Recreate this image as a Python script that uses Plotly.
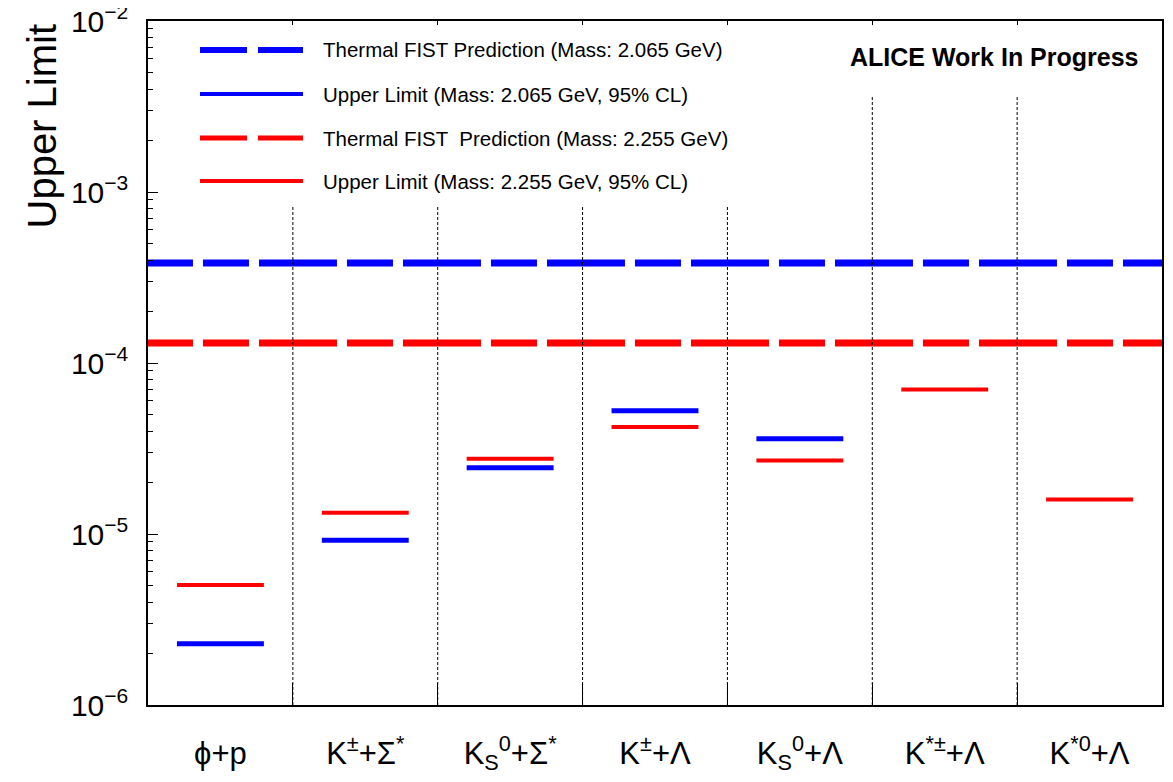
import plotly.graph_objects as go

categories = ["ϕ+p", "K<sup>±</sup>+Σ<sup>*</sup>", "K<sub>S</sub><sup>0</sup>+Σ<sup>*</sup>",
              "K<sup>±</sup>+Λ", "K<sub>S</sub><sup>0</sup>+Λ", "K<sup>*±</sup>+Λ", "K<sup>*0</sup>+Λ"]
ul_2065 = [2.28e-6, 9.18e-6, 2.44e-5, 5.26e-5, 3.61e-5, None, None]
ul_2255 = [5.04e-6, 1.33e-5, 2.75e-5, 4.23e-5, 2.69e-5, 7.01e-5, 1.59e-5]
fist_2065 = 3.85e-4
fist_2255 = 1.31e-4
sep_top = [8.17e-4, 8.17e-4, 8.17e-4, 8.17e-4, 3.69e-3, 3.69e-3]
ymin, ymax = 1e-6, 1e-2

BLUE = "#0000ff"
RED = "#ff0000"
FONT = "Liberation Sans, Arial, sans-serif"
n = len(categories)

def segs(vals):
    xs, ys = [], []
    for i, v in enumerate(vals):
        if v is None:
            continue
        xs += [i + 0.2, i + 0.8, None]
        ys += [v, v, None]
    return xs, ys

fig = go.Figure()

# separators (dotted)
sx, sy = [], []
for i, top in enumerate(sep_top):
    sx += [i + 1, i + 1, None]
    sy += [ymin, top, None]
fig.add_trace(go.Scatter(x=sx, y=sy, mode="lines", xaxis="x2",
                         line=dict(color="black", width=1, dash="3px,2px"),
                         hoverinfo="skip", showlegend=False))

# thermal FIST predictions (dashed)
for val, col in [(fist_2065, BLUE), (fist_2255, RED)]:
    fig.add_trace(go.Scatter(x=[-0.228, n + 0.3], y=[val, val], mode="lines",
                             line=dict(color=col, width=7, dash="78px,10px,46px,10px"),
                             showlegend=False))

# upper limits
bx, by = segs(ul_2065)
fig.add_trace(go.Scatter(x=bx, y=by, mode="lines", line=dict(color=BLUE, width=5),
                         showlegend=False))
rx, ry = segs(ul_2255)
fig.add_trace(go.Scatter(x=rx, y=ry, mode="lines", line=dict(color=RED, width=4),
                         showlegend=False))

# page is offset by the 8px body margin
OFF = 8
W, H = 1173 - OFF, 782 - OFF
L, R, T, B = 148 - OFF, 1162 - OFF, 21 - OFF, 705 - OFF
def px(x):
    return (x - OFF - L) / (R - L)
def py(y):
    return (B - (y - OFF)) / (B - T)

legend_items = [
    ("Thermal FIST Prediction (Mass: 2.065 GeV)", BLUE, "47px,11px,46px", 6),
    ("Upper Limit (Mass: 2.065 GeV, 95% CL)", BLUE, "solid", 4),
    ("Thermal FIST \u00a0Prediction (Mass: 2.255 GeV)", RED, "47px,11px,46px", 5),
    ("Upper Limit (Mass: 2.255 GeV, 95% CL)", RED, "solid", 4),
]
rows_y = [50, 94, 138, 181]
shapes = []
annotations = []
for (txt, col, dash, w), yy in zip(legend_items, rows_y):
    shapes.append(dict(type="line", xref="paper", yref="paper", x0=px(200), x1=px(303),
                       y0=py(yy), y1=py(yy), line=dict(color=col, width=w, dash=dash)))
    annotations.append(dict(text=txt, xref="paper", yref="paper", x=px(321), y=py(yy),
                            xanchor="left", yanchor="middle", showarrow=False,
                            font=dict(family=FONT, size=20.5, color="black")))

annotations.append(dict(text="<b>ALICE Work In Progress</b>", xref="paper", yref="paper",
                        x=px(1141), y=py(57), xanchor="right", yanchor="middle",
                        showarrow=False, font=dict(family=FONT, size=25, color="black")))
annotations.append(dict(text="Upper Limit", xref="paper", yref="paper", x=0, y=1,
                        xshift=-107, yshift=-1, xanchor="center", yanchor="top",
                        textangle=-90, showarrow=False,
                        font=dict(family=FONT, size=40, color="black")))

dec = [-6, -5, -4, -3, -2]
minor_vals = [k * 10 ** e for e in range(-6, -2) for k in range(2, 10)]

fig.update_layout(
    width=W, height=H,
    margin=dict(l=L, r=W - R, t=T, b=H - B),
    paper_bgcolor="white", plot_bgcolor="white",
    shapes=shapes, annotations=annotations,
    showlegend=False,
    xaxis=dict(range=[0, n], tickmode="array", automargin=False,
               tickvals=[i + 0.5 for i in range(n)], ticktext=categories,
               ticks="", showgrid=False, zeroline=False,
               showline=True, linecolor="black", linewidth=1.5, mirror=True,
               tickfont=dict(family=FONT, size=31, color="black"),
               ticklabelstandoff=20, ticklabeloverflow="allow",
               minor=dict(tickmode="array", tickvals=list(range(1, n)), ticks="inside",
                          ticklen=22, tickcolor="black", tickwidth=1, showgrid=False)),
    xaxis2=dict(range=[0, n], overlaying="x", side="top", anchor="y", automargin=False,
                tickmode="array", tickvals=list(range(1, n)), ticks="inside",
                ticklen=4, tickcolor="black", showticklabels=False,
                showgrid=False, zeroline=False, showline=False),
    yaxis=dict(type="log", range=[-6, -2], tickmode="array", automargin=False,
               tickvals=[10 ** e for e in dec],
               ticktext=["10<sup>−%d</sup>" % (-e) for e in dec],
               ticks="inside", ticklen=10, tickwidth=1, tickcolor="black",
               showgrid=False, zeroline=False,
               showline=True, linecolor="black", linewidth=1.5, mirror=True,
               tickfont=dict(family=FONT, size=30, color="black"),
               ticklabelstandoff=12, ticklabeloverflow="allow",
               minor=dict(tickmode="array", tickvals=minor_vals, ticks="inside",
                          ticklen=5, tickcolor="black", tickwidth=1, showgrid=False)),
)

fig.write_html("out.html")
